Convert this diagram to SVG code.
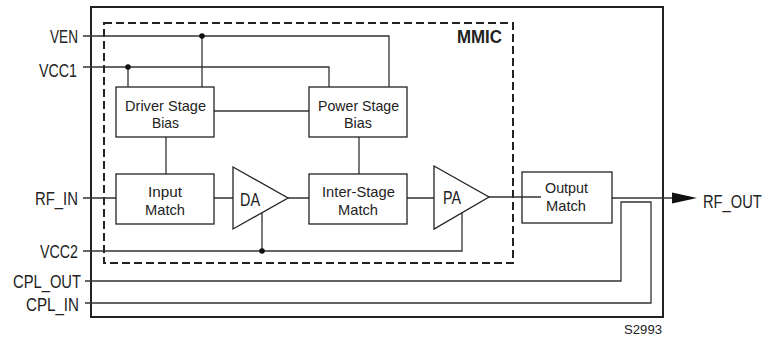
<svg xmlns="http://www.w3.org/2000/svg" width="771" height="339" viewBox="0 0 771 339">
<style>
.t{font-family:"Liberation Sans",Arial,sans-serif;font-size:17.5px;fill:#222}
.lbl{font-family:"Liberation Sans",Arial,sans-serif;font-size:15px;fill:#222;text-anchor:middle}
.w{fill:none;stroke:#333;stroke-width:1.3}
.box{fill:#fff;stroke:#222;stroke-width:1.3}
.dot{fill:#111}
</style>
<rect width="771" height="339" fill="#fff"/>
<g id="package"><rect x="91" y="7" width="572" height="310" fill="none" stroke="#222" stroke-width="2"/></g>
<g id="mmic"><rect x="104" y="23" width="409" height="240" fill="none" stroke="#222" stroke-width="2" stroke-dasharray="8,4"/>
<text x="502" y="43" class="t" font-weight="bold" text-anchor="end" textLength="45" lengthAdjust="spacingAndGlyphs">MMIC</text></g>
<g id="connectors">
<path class="w" d="M83,36 H389 V87 M202,36 V87"/>
<path class="w" d="M83,67 H329 V87 M128,67 V87"/>
<path class="w" d="M214,111 H309"/>
<path class="w" d="M166,137 V174 M359,137 V174"/>
<path class="w" d="M83,198 H116 M214,198 H233 M288,198 H309 M407,198 H434 M489,197 H541"/>
<path class="w" d="M612,198 H673"/>
<polygon points="672,192.5 697,198 672,203.5" fill="#111"/>
<path class="w" d="M83,251 H462 V213 M262,251 V213"/>
<path class="w" d="M85,281 H621 V202 H651 V303 H85"/>
<circle class="dot" cx="202" cy="36" r="2.8"/>
<circle class="dot" cx="128" cy="67" r="2.8"/>
<circle class="dot" cx="262" cy="251" r="2.8"/>
</g>
<g id="driver-bias"><rect class="box" x="116" y="87" width="98" height="50"/>
<text class="lbl" x="165.5" y="111" textLength="81" lengthAdjust="spacingAndGlyphs">Driver Stage</text>
<text class="lbl" x="165.5" y="128" textLength="27" lengthAdjust="spacingAndGlyphs">Bias</text></g>
<g id="power-bias"><rect class="box" x="309" y="87" width="98" height="50"/>
<text class="lbl" x="358.5" y="111" textLength="81" lengthAdjust="spacingAndGlyphs">Power Stage</text>
<text class="lbl" x="358" y="128" textLength="28" lengthAdjust="spacingAndGlyphs">Bias</text></g>
<g id="input-match"><rect class="box" x="116" y="174" width="98" height="50"/>
<text class="lbl" x="165" y="197" textLength="34" lengthAdjust="spacingAndGlyphs">Input</text>
<text class="lbl" x="165" y="215" textLength="40" lengthAdjust="spacingAndGlyphs">Match</text></g>
<g id="da"><polygon class="box" points="233,167 288,198 233,229"/>
<text class="t" x="240" y="206" textLength="20" lengthAdjust="spacingAndGlyphs">DA</text></g>
<g id="interstage-match"><rect class="box" x="309" y="174" width="98" height="50"/>
<text class="lbl" x="358.5" y="197" textLength="73" lengthAdjust="spacingAndGlyphs">Inter-Stage</text>
<text class="lbl" x="358" y="215" textLength="40" lengthAdjust="spacingAndGlyphs">Match</text></g>
<g id="pa"><polygon class="box" points="434,166 489,197 434,229"/>
<text class="t" x="443" y="204" textLength="18" lengthAdjust="spacingAndGlyphs">PA</text></g>
<g id="output-match"><rect fill="none" stroke="#222" stroke-width="1.3" x="522" y="172" width="90" height="51"/>
<text class="lbl" x="566.5" y="193" textLength="43" lengthAdjust="spacingAndGlyphs">Output</text>
<text class="lbl" x="566" y="211" textLength="40" lengthAdjust="spacingAndGlyphs">Match</text></g>
<g id="pins">
<text class="t" x="78" y="43" text-anchor="end" textLength="28" lengthAdjust="spacingAndGlyphs">VEN</text>
<text class="t" x="77" y="77" text-anchor="end" textLength="38" lengthAdjust="spacingAndGlyphs">VCC1</text>
<text class="t" x="78" y="205" text-anchor="end" textLength="43" lengthAdjust="spacingAndGlyphs">RF_IN</text>
<text class="t" x="78" y="258" text-anchor="end" textLength="38" lengthAdjust="spacingAndGlyphs">VCC2</text>
<text class="t" x="81" y="288" text-anchor="end" textLength="68" lengthAdjust="spacingAndGlyphs">CPL_OUT</text>
<text class="t" x="79" y="311" text-anchor="end" textLength="53" lengthAdjust="spacingAndGlyphs">CPL_IN</text>
<text class="t" transform="translate(703,208) scale(0.84,1)" x="0" y="0">RF_OUT</text>
<text x="662" y="334" text-anchor="end" font-family="Liberation Sans, Arial, sans-serif" font-size="13.5" fill="#222" textLength="38" lengthAdjust="spacingAndGlyphs">S2993</text>
</g>
</svg>
